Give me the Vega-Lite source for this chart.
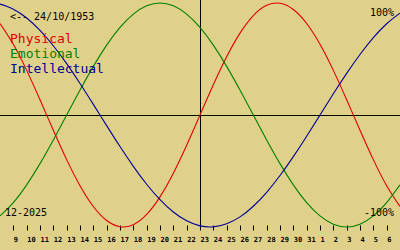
{
  "$schema": "https://vega.github.io/schema/vega-lite/v6.json",
  "width": 400,
  "height": 230,
  "autosize": {"type": "none"},
  "padding": {"left": 0, "top": 0, "right": 0, "bottom": 20},
  "background": "#e0d18a",
  "config": {"view": {"stroke": null}},
  "resolve": {"axis": {"x": "independent", "y": "independent"}},
  "layer": [
    {
      "data": {"values": [{}]},
      "mark": {"type": "rule", "color": "#000000", "strokeWidth": 1, "yOffset": 0.5},
      "encoding": {"y": {"datum": 0, "axis": null}}
    },
    {
      "data": {"values": [{}]},
      "mark": {"type": "rule", "color": "#000000", "strokeWidth": 1, "xOffset": 0.5},
      "encoding": {"x": {"datum": 23, "axis": null}}
    },
    {
      "data": {
        "values": [
          {"s": "Physical", "d": 8, "v": 0.8170},
          {"s": "Physical", "d": 9, "v": 0.6311},
          {"s": "Physical", "d": 10, "v": 0.3984},
          {"s": "Physical", "d": 11, "v": 0.1362},
          {"s": "Physical", "d": 12, "v": -0.1362},
          {"s": "Physical", "d": 13, "v": -0.3984},
          {"s": "Physical", "d": 14, "v": -0.6311},
          {"s": "Physical", "d": 15, "v": -0.8170},
          {"s": "Physical", "d": 16, "v": -0.9423},
          {"s": "Physical", "d": 17, "v": -0.9977},
          {"s": "Physical", "d": 18, "v": -0.9791},
          {"s": "Physical", "d": 19, "v": -0.8879},
          {"s": "Physical", "d": 20, "v": -0.7308},
          {"s": "Physical", "d": 21, "v": -0.5196},
          {"s": "Physical", "d": 22, "v": -0.2698},
          {"s": "Physical", "d": 23, "v": 0},
          {"s": "Physical", "d": 24, "v": 0.2698},
          {"s": "Physical", "d": 25, "v": 0.5196},
          {"s": "Physical", "d": 26, "v": 0.7308},
          {"s": "Physical", "d": 27, "v": 0.8879},
          {"s": "Physical", "d": 28, "v": 0.9791},
          {"s": "Physical", "d": 29, "v": 0.9977},
          {"s": "Physical", "d": 30, "v": 0.9423},
          {"s": "Physical", "d": 31, "v": 0.8170},
          {"s": "Physical", "d": 32, "v": 0.6311},
          {"s": "Physical", "d": 33, "v": 0.3984},
          {"s": "Physical", "d": 34, "v": 0.1362},
          {"s": "Physical", "d": 35, "v": -0.1362},
          {"s": "Physical", "d": 36, "v": -0.3984},
          {"s": "Physical", "d": 37, "v": -0.6311},
          {"s": "Physical", "d": 38, "v": -0.8170},
          {"s": "Emotional", "d": 8, "v": -0.9010},
          {"s": "Emotional", "d": 9, "v": -0.7818},
          {"s": "Emotional", "d": 10, "v": -0.6235},
          {"s": "Emotional", "d": 11, "v": -0.4339},
          {"s": "Emotional", "d": 12, "v": -0.2225},
          {"s": "Emotional", "d": 13, "v": 0},
          {"s": "Emotional", "d": 14, "v": 0.2225},
          {"s": "Emotional", "d": 15, "v": 0.4339},
          {"s": "Emotional", "d": 16, "v": 0.6235},
          {"s": "Emotional", "d": 17, "v": 0.7818},
          {"s": "Emotional", "d": 18, "v": 0.9010},
          {"s": "Emotional", "d": 19, "v": 0.9749},
          {"s": "Emotional", "d": 20, "v": 1},
          {"s": "Emotional", "d": 21, "v": 0.9749},
          {"s": "Emotional", "d": 22, "v": 0.9010},
          {"s": "Emotional", "d": 23, "v": 0.7818},
          {"s": "Emotional", "d": 24, "v": 0.6235},
          {"s": "Emotional", "d": 25, "v": 0.4339},
          {"s": "Emotional", "d": 26, "v": 0.2225},
          {"s": "Emotional", "d": 27, "v": 0},
          {"s": "Emotional", "d": 28, "v": -0.2225},
          {"s": "Emotional", "d": 29, "v": -0.4339},
          {"s": "Emotional", "d": 30, "v": -0.6235},
          {"s": "Emotional", "d": 31, "v": -0.7818},
          {"s": "Emotional", "d": 32, "v": -0.9010},
          {"s": "Emotional", "d": 33, "v": -0.9749},
          {"s": "Emotional", "d": 34, "v": -1},
          {"s": "Emotional", "d": 35, "v": -0.9749},
          {"s": "Emotional", "d": 36, "v": -0.9010},
          {"s": "Emotional", "d": 37, "v": -0.7818},
          {"s": "Emotional", "d": 38, "v": -0.6235},
          {"s": "Intellectual", "d": 8, "v": 0.9898},
          {"s": "Intellectual", "d": 9, "v": 0.9450},
          {"s": "Intellectual", "d": 10, "v": 0.8660},
          {"s": "Intellectual", "d": 11, "v": 0.7557},
          {"s": "Intellectual", "d": 12, "v": 0.6182},
          {"s": "Intellectual", "d": 13, "v": 0.4582},
          {"s": "Intellectual", "d": 14, "v": 0.2817},
          {"s": "Intellectual", "d": 15, "v": 0.0951},
          {"s": "Intellectual", "d": 16, "v": -0.0951},
          {"s": "Intellectual", "d": 17, "v": -0.2817},
          {"s": "Intellectual", "d": 18, "v": -0.4582},
          {"s": "Intellectual", "d": 19, "v": -0.6182},
          {"s": "Intellectual", "d": 20, "v": -0.7557},
          {"s": "Intellectual", "d": 21, "v": -0.8660},
          {"s": "Intellectual", "d": 22, "v": -0.9450},
          {"s": "Intellectual", "d": 23, "v": -0.9898},
          {"s": "Intellectual", "d": 24, "v": -0.9989},
          {"s": "Intellectual", "d": 25, "v": -0.9718},
          {"s": "Intellectual", "d": 26, "v": -0.9096},
          {"s": "Intellectual", "d": 27, "v": -0.8146},
          {"s": "Intellectual", "d": 28, "v": -0.6901},
          {"s": "Intellectual", "d": 29, "v": -0.5406},
          {"s": "Intellectual", "d": 30, "v": -0.3717},
          {"s": "Intellectual", "d": 31, "v": -0.1893},
          {"s": "Intellectual", "d": 32, "v": 0},
          {"s": "Intellectual", "d": 33, "v": 0.1893},
          {"s": "Intellectual", "d": 34, "v": 0.3717},
          {"s": "Intellectual", "d": 35, "v": 0.5406},
          {"s": "Intellectual", "d": 36, "v": 0.6901},
          {"s": "Intellectual", "d": 37, "v": 0.8146},
          {"s": "Intellectual", "d": 38, "v": 0.9096}
        ]
      },
      "mark": {"type": "line", "interpolate": "natural", "strokeWidth": 1.1},
      "encoding": {
        "x": {
          "field": "d",
          "type": "quantitative",
          "scale": {"domain": [8, 38], "nice": false, "zero": false},
          "axis": {
            "title": null,
            "values": [9, 10, 11, 12, 13, 14, 15, 16, 17, 18, 19, 20, 21, 22, 23, 24, 25, 26, 27, 28, 29, 30, 31, 32, 33, 34, 35, 36, 37],
            "labelExpr": "datum.value > 31 ? datum.value - 31 : datum.value",
            "domain": false,
            "grid": false,
            "offset": -5,
            "tickSize": 5,
            "tickColor": "#000000",
            "tickWidth": 1,
            "labelFont": "DejaVu Sans Mono",
            "labelFontSize": 7,
            "labelFontWeight": "bold",
            "labelColor": "#000000",
            "labelAlign": "left",
            "labelDx": -4.5,
            "labelPadding": 5,
            "labelOverlap": false,
            "labelBound": false
          }
        },
        "y": {
          "field": "v",
          "type": "quantitative",
          "scale": {"domain": [-1.0268, 1.0268], "nice": false, "zero": false},
          "axis": null
        },
        "color": {
          "field": "s",
          "type": "nominal",
          "scale": {"domain": ["Physical", "Emotional", "Intellectual"], "range": ["#e00000", "#008000", "#000098"]},
          "legend": null
        }
      }
    },
    {
      "data": {"values": [{}]},
      "mark": {"type": "text", "font": "DejaVu Sans Mono", "fontSize": 10, "align": "left", "baseline": "alphabetic", "color": "#000000"},
      "encoding": {"x": {"datum": 8.75, "axis": null}, "y": {"datum": 0.848, "axis": null}, "text": {"value": "<-- 24/10/1953"}}
    },
    {
      "data": {"values": [{}]},
      "mark": {"type": "text", "font": "DejaVu Sans Mono", "fontSize": 13, "align": "left", "baseline": "alphabetic", "color": "#e00000"},
      "encoding": {"x": {"datum": 8.75, "axis": null}, "y": {"datum": 0.6455, "axis": null}, "text": {"value": "Physical"}}
    },
    {
      "data": {"values": [{}]},
      "mark": {"type": "text", "font": "DejaVu Sans Mono", "fontSize": 13, "align": "left", "baseline": "alphabetic", "color": "#008000"},
      "encoding": {"x": {"datum": 8.75, "axis": null}, "y": {"datum": 0.506, "axis": null}, "text": {"value": "Emotional"}}
    },
    {
      "data": {"values": [{}]},
      "mark": {"type": "text", "font": "DejaVu Sans Mono", "fontSize": 13, "align": "left", "baseline": "alphabetic", "color": "#000098"},
      "encoding": {"x": {"datum": 8.75, "axis": null}, "y": {"datum": 0.372, "axis": null}, "text": {"value": "Intellectual"}}
    },
    {
      "data": {"values": [{}]},
      "mark": {"type": "text", "font": "DejaVu Sans Mono", "fontSize": 10, "align": "left", "baseline": "alphabetic", "color": "#000000"},
      "encoding": {"x": {"datum": 8.375, "axis": null}, "y": {"datum": -0.9018, "axis": null}, "text": {"value": "12-2025"}}
    },
    {
      "data": {"values": [{}]},
      "mark": {"type": "text", "font": "DejaVu Sans Mono", "fontSize": 10, "align": "right", "baseline": "alphabetic", "color": "#000000"},
      "encoding": {"x": {"datum": 37.55, "axis": null}, "y": {"datum": 0.8839, "axis": null}, "text": {"value": "100%"}}
    },
    {
      "data": {"values": [{}]},
      "mark": {"type": "text", "font": "DejaVu Sans Mono", "fontSize": 10, "align": "right", "baseline": "alphabetic", "color": "#000000"},
      "encoding": {"x": {"datum": 37.55, "axis": null}, "y": {"datum": -0.9018, "axis": null}, "text": {"value": "-100%"}}
    }
  ]
}
